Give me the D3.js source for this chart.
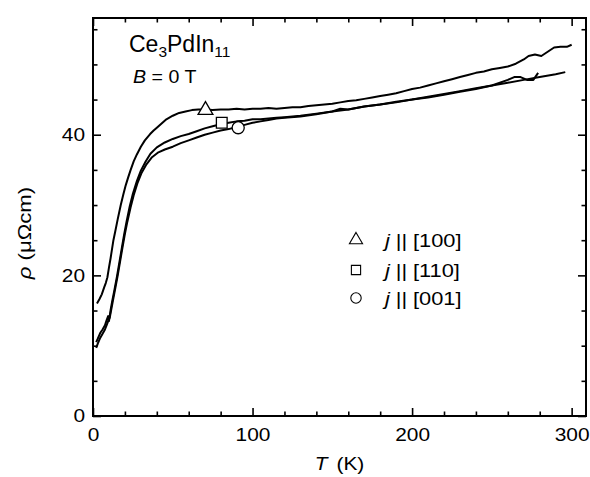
<!DOCTYPE html>
<html>
<head>
<meta charset="utf-8">
<script src="https://cdn.jsdelivr.net/npm/d3@7"></script>
<style>
  body { margin: 0; background: #fff; }
  text { font-family: Arial, "Liberation Sans", sans-serif; fill: #000; }
</style>
</head>
<body>
<div class="chart"></div>
<script>
// j || [100]
const tempA = [2.5, 4, 5.5, 7, 8, 9, 10, 11, 12.8, 14, 15.5, 17.4, 19, 20.5, 22, 23.6, 25.5, 27.5, 30, 32.5, 35.8, 38, 40, 43, 46, 50, 54, 58, 62, 66, 70, 75, 80, 85, 90, 95, 100, 105, 110, 115, 120, 125, 130, 135, 140, 145, 150, 155, 160, 165, 170, 175, 180, 185, 190, 195, 200, 205, 210, 215, 220, 225, 230, 235, 240, 245, 250, 255, 260, 265, 270, 273, 277, 281, 285, 289, 293, 297, 300];
const rhoA  = [16.0, 16.6, 17.3, 18.3, 18.9, 19.7, 21.1, 22.4, 25.0, 26.3, 28.0, 30.0, 31.5, 32.8, 33.9, 35.0, 36.2, 37.2, 38.3, 39.2, 40.1, 40.6, 41.0, 41.6, 42.2, 42.7, 43.1, 43.3, 43.5, 43.6, 43.6, 43.5, 43.6, 43.6, 43.7, 43.6, 43.7, 43.7, 43.8, 43.7, 43.8, 43.9, 43.9, 44.1, 44.2, 44.3, 44.4, 44.6, 44.8, 44.9, 45.1, 45.3, 45.5, 45.7, 45.9, 46.2, 46.5, 46.7, 47.0, 47.3, 47.6, 47.9, 48.2, 48.5, 48.8, 49.0, 49.3, 49.5, 49.7, 50.1, 50.7, 51.2, 51.4, 51.2, 51.8, 52.4, 52.5, 52.5, 52.8];

// j || [110]
const tempB = [2, 3, 4.5, 6, 7.5, 8.5, 9.5, 10, 11, 12, 13.5, 15, 16.5, 18, 19.5, 21, 23, 25, 27.5, 30, 33, 36, 40, 45, 50, 55, 60, 65, 70, 75, 80, 85, 90, 95, 100, 105, 110, 115, 120, 125, 130, 140, 150, 155, 160, 170, 180, 190, 200, 210, 220, 230, 240, 250, 255, 260, 264, 268, 272, 276, 279];
const rhoB  = [10.5, 11.0, 11.8, 12.3, 12.9, 13.6, 14.2, 13.5, 15.0, 16.3, 18.0, 19.8, 21.8, 23.8, 25.8, 27.6, 29.8, 31.6, 33.4, 34.9, 36.2, 37.3, 38.2, 38.9, 39.4, 39.8, 40.1, 40.5, 40.9, 41.2, 41.5, 41.7, 41.9, 42.0, 42.2, 42.2, 42.3, 42.4, 42.5, 42.6, 42.7, 43.0, 43.3, 43.7, 43.6, 44.0, 44.3, 44.7, 45.0, 45.4, 45.8, 46.2, 46.6, 47.0, 47.4, 47.8, 48.2, 48.2, 47.8, 47.8, 48.8];

// j || [001]
const tempC = [2, 3, 4.5, 6, 7.5, 8.5, 9.5, 10.5, 11.5, 12.5, 14, 15.5, 17, 18.5, 20, 21.5, 23.5, 25.5, 28, 30.5, 33.5, 37, 41, 45, 50, 55, 60, 65, 70, 75, 80, 85, 90, 95, 100, 105, 110, 115, 120, 130, 140, 150, 160, 170, 180, 190, 200, 210, 220, 230, 240, 250, 260, 270, 280, 290, 296];
const rhoC  = [9.7, 10.3, 11.1, 11.7, 12.3, 12.9, 13.5, 14.0, 15.2, 16.4, 18.2, 20.0, 22.0, 24.0, 25.9, 27.6, 29.6, 31.4, 33.2, 34.6, 35.8, 36.8, 37.5, 37.9, 38.3, 38.8, 39.2, 39.6, 40.0, 40.3, 40.6, 40.8, 41.1, 41.4, 41.7, 41.9, 42.1, 42.3, 42.4, 42.6, 42.9, 43.3, 43.6, 44.0, 44.3, 44.6, 45.0, 45.3, 45.7, 46.1, 46.5, 47.0, 47.4, 47.8, 48.2, 48.6, 48.9];

// marker on each curve + legend
const seriesNames  = ["[100]", "[110]", "[001]"];
const seriesShapes = ["triangle", "square", "circle"];
const markerT   = [70.5, 80.7, 91];
const markerRho = [43.5, 41.7, 41.0];

const xTicks = [0, 100, 200, 300];
const yTicks = [0, 20, 40];

const width = 590, height = 477;
const margin = {left: 93, top: 18, right: 4, bottom: 61};

const svg = d3.select(".chart")
  .append("svg")
  .attr("width", width)
  .attr("height", height);

const xScale = d3.scaleLinear().domain([0, 309]).range([margin.left, width - margin.right]);
const yScale = d3.scaleLinear().domain([0, 56.6]).range([height - margin.bottom, margin.top]);

const x0 = xScale.range()[0], x1 = xScale.range()[1];
const y0 = yScale.range()[0], y1 = yScale.range()[1];

// the lettering in the original is a bit wider than Arial, so stretch it sideways
const wide = 1.13;

// axes, ticks pointing inward on all four sides
const minorX = d3.range(0, 310, 20).filter(d => d % 100 !== 0);
const minorY = d3.range(0, 57, 5).filter(d => d % 20 !== 0);

const styleAxis = g => {
  g.select(".domain").remove();
  g.selectAll(".tick line").attr("stroke", "#000").attr("stroke-width", 1.6);
  g.selectAll(".tick text")
    .style("font-size", "18.5px")
    .attr("transform", `scale(${wide},1)`);
};

svg.append("g").attr("transform", `translate(0,${y0})`)
  .call(d3.axisBottom(xScale).tickValues(xTicks).tickSize(-8).tickPadding(11.5).tickFormat(d3.format("d")))
  .call(styleAxis);
svg.append("g").attr("transform", `translate(0,${y0})`)
  .call(d3.axisBottom(xScale).tickValues(minorX).tickSize(-4.5).tickFormat(""))
  .call(styleAxis);
svg.append("g").attr("transform", `translate(0,${y1})`)
  .call(d3.axisTop(xScale).tickValues(xTicks).tickSize(-8).tickFormat(""))
  .call(styleAxis);
svg.append("g").attr("transform", `translate(0,${y1})`)
  .call(d3.axisTop(xScale).tickValues(minorX).tickSize(-4.5).tickFormat(""))
  .call(styleAxis);

svg.append("g").attr("transform", `translate(${x0},0)`)
  .call(d3.axisLeft(yScale).tickValues(yTicks).tickSize(-8).tickPadding(7).tickFormat(d3.format("d")))
  .call(styleAxis);
svg.append("g").attr("transform", `translate(${x0},0)`)
  .call(d3.axisLeft(yScale).tickValues(minorY).tickSize(-4.5).tickFormat(""))
  .call(styleAxis);
svg.append("g").attr("transform", `translate(${x1},0)`)
  .call(d3.axisRight(yScale).tickValues(yTicks).tickSize(-8).tickFormat(""))
  .call(styleAxis);
svg.append("g").attr("transform", `translate(${x1},0)`)
  .call(d3.axisRight(yScale).tickValues(minorY).tickSize(-4.5).tickFormat(""))
  .call(styleAxis);

// frame
svg.append("rect")
  .attr("x", x0).attr("y", y1)
  .attr("width", x1 - x0).attr("height", y0 - y1)
  .attr("fill", "none").attr("stroke", "#000").attr("stroke-width", 2);

// curves
const line = d3.line().x(d => xScale(d[0])).y(d => yScale(d[1]));
const curves = [
  d3.zip(tempA, rhoA),
  d3.zip(tempB, rhoB),
  d3.zip(tempC, rhoC)
];
svg.selectAll("path.curve")
  .data(curves)
  .join("path")
    .attr("class", "curve")
    .attr("d", line)
    .attr("fill", "none")
    .attr("stroke", "#000")
    .attr("stroke-width", 2)
    .attr("stroke-linejoin", "round");

// symbols
const symbolType = {triangle: d3.symbolTriangle, square: d3.symbolSquare, circle: d3.symbolCircle};
const plotSizes  = {triangle: 95, square: 115, circle: 115};
const legendSizes = {triangle: 75, square: 85, circle: 85};

svg.selectAll("path.marker")
  .data(seriesShapes)
  .join("path")
    .attr("class", "marker")
    .attr("d", s => d3.symbol(symbolType[s], plotSizes[s])())
    .attr("transform", (s, i) => `translate(${xScale(markerT[i])},${yScale(markerRho[i])})`)
    .attr("fill", "#fff")
    .attr("stroke", "#000")
    .attr("stroke-width", 1.3);

// legend
const legendX = 356, legendY = [240, 270, 298];
svg.selectAll("path.legsym")
  .data(seriesShapes)
  .join("path")
    .attr("class", "legsym")
    .attr("d", s => d3.symbol(symbolType[s], legendSizes[s])())
    .attr("transform", (s, i) => `translate(${legendX},${legendY[i]})`)
    .attr("fill", "#fff")
    .attr("stroke", "#000")
    .attr("stroke-width", 1.1);

const legText = svg.selectAll("text.leg")
  .data(seriesNames)
  .join("text")
    .attr("class", "leg")
    .attr("transform", (d, i) => `translate(385,${legendY[i] + 6.5}) scale(${wide + 0.05},1)`)
    .style("font-size", "18.5px");
legText.append("tspan").style("font-style", "italic").text("j");
legText.append("tspan").attr("dx", 5).text("||");
legText.append("tspan").attr("dx", 5).text(d => d);

// annotations
const title = svg.append("text").attr("x", 129).attr("y", 52).style("font-size", "23px");
title.append("tspan").text("Ce");
title.append("tspan").attr("dy", 5).style("font-size", "15.5px").text("3");
title.append("tspan").attr("dy", -5).text("PdIn");
title.append("tspan").attr("dy", 5).style("font-size", "15.5px").text("11");

const field = svg.append("text")
  .attr("transform", `translate(133,83) scale(1.06,1)`)
  .style("font-size", "18.5px");
field.append("tspan").style("font-style", "italic").text("B");
field.append("tspan").text(" = 0 T");

// axis titles
const xTitle = svg.append("text")
  .attr("transform", `translate(${(x0 + x1) / 2},470) scale(${wide},1)`)
  .attr("text-anchor", "middle")
  .style("font-size", "18.5px");
xTitle.append("tspan").style("font-style", "italic").text("T");
xTitle.append("tspan").attr("dx", 8).text("(K)");

const yTitle = svg.append("text")
  .attr("transform", `translate(31,233) rotate(-90) scale(${wide + 0.07},1)`)
  .attr("text-anchor", "middle")
  .style("font-size", "18.5px");
yTitle.append("tspan").style("font-style", "italic").text("ρ");
yTitle.append("tspan").attr("dx", 5).text("(μΩcm)");
</script>
</body>
</html>
